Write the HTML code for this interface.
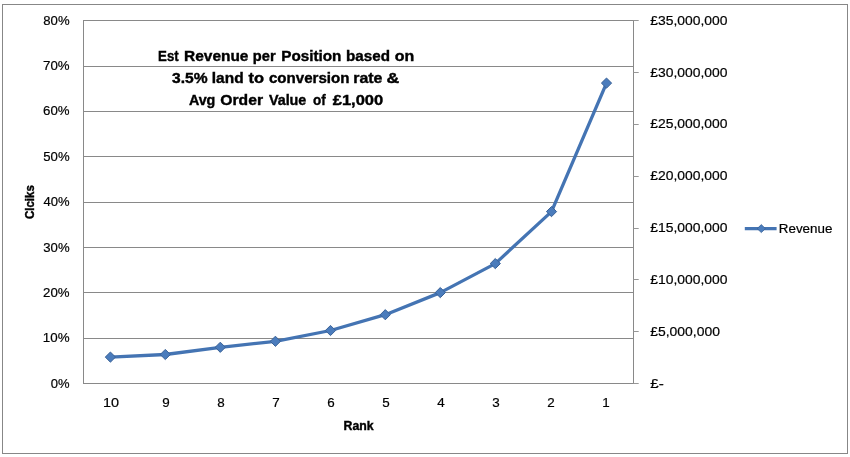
<!DOCTYPE html>
<html lang="en">
<head>
<meta charset="utf-8">
<title>Est Revenue per Position</title>
<style>
html,body{margin:0;padding:0;background:#fff;}
body{width:850px;height:457px;overflow:hidden;}
svg{display:block;}
text{font-family:"Liberation Sans",sans-serif;fill:#000;stroke:#000;stroke-width:0.2px;}
.b{font-weight:bold;stroke-width:0.4px;}
</style>
</head>
<body>
<svg width="850" height="457" viewBox="0 0 850 457">
<rect x="0" y="0" width="850" height="457" fill="#fff"/>

<rect x="2.5" y="4.5" width="845" height="449" fill="none" stroke="#878787" stroke-width="1"/>
<line x1="83.5" y1="20.50" x2="633.5" y2="20.50" stroke="#898989" stroke-width="1"/>
<line x1="83.5" y1="66.50" x2="633.5" y2="66.50" stroke="#898989" stroke-width="1"/>
<line x1="83.5" y1="111.50" x2="633.5" y2="111.50" stroke="#898989" stroke-width="1"/>
<line x1="83.5" y1="156.50" x2="633.5" y2="156.50" stroke="#898989" stroke-width="1"/>
<line x1="83.5" y1="202.50" x2="633.5" y2="202.50" stroke="#898989" stroke-width="1"/>
<line x1="83.5" y1="247.50" x2="633.5" y2="247.50" stroke="#898989" stroke-width="1"/>
<line x1="83.5" y1="292.50" x2="633.5" y2="292.50" stroke="#898989" stroke-width="1"/>
<line x1="83.5" y1="338.50" x2="633.5" y2="338.50" stroke="#898989" stroke-width="1"/>
<line x1="83.5" y1="383.50" x2="633.5" y2="383.50" stroke="#898989" stroke-width="1"/>
<line x1="83.5" y1="20.0" x2="83.5" y2="384.0" stroke="#898989" stroke-width="1"/>
<line x1="633.5" y1="20.0" x2="633.5" y2="384.0" stroke="#898989" stroke-width="1"/>
<line x1="633.5" y1="20.50" x2="638.7" y2="20.50" stroke="#979797" stroke-width="1"/>
<line x1="633.5" y1="72.50" x2="638.7" y2="72.50" stroke="#979797" stroke-width="1"/>
<line x1="633.5" y1="124.50" x2="638.7" y2="124.50" stroke="#979797" stroke-width="1"/>
<line x1="633.5" y1="176.50" x2="638.7" y2="176.50" stroke="#979797" stroke-width="1"/>
<line x1="633.5" y1="228.50" x2="638.7" y2="228.50" stroke="#979797" stroke-width="1"/>
<line x1="633.5" y1="279.50" x2="638.7" y2="279.50" stroke="#979797" stroke-width="1"/>
<line x1="633.5" y1="331.50" x2="638.7" y2="331.50" stroke="#979797" stroke-width="1"/>
<line x1="633.5" y1="383.50" x2="638.7" y2="383.50" stroke="#979797" stroke-width="1"/>
<text x="43.29" y="25.2" font-size="13.4" textLength="26.30" lengthAdjust="spacingAndGlyphs">80%</text>
<text x="43.08" y="70.2" font-size="13.4" textLength="26.52" lengthAdjust="spacingAndGlyphs">70%</text>
<text x="43.08" y="115.2" font-size="13.4" textLength="26.52" lengthAdjust="spacingAndGlyphs">60%</text>
<text x="43.29" y="161.2" font-size="13.4" textLength="26.30" lengthAdjust="spacingAndGlyphs">50%</text>
<text x="43.50" y="206.2" font-size="13.4" textLength="26.09" lengthAdjust="spacingAndGlyphs">40%</text>
<text x="43.29" y="252.2" font-size="13.4" textLength="26.30" lengthAdjust="spacingAndGlyphs">30%</text>
<text x="43.08" y="297.2" font-size="13.4" textLength="26.52" lengthAdjust="spacingAndGlyphs">20%</text>
<text x="42.87" y="342.2" font-size="13.4" textLength="26.73" lengthAdjust="spacingAndGlyphs">10%</text>
<text x="50.79" y="388.2" font-size="13.4" textLength="18.79" lengthAdjust="spacingAndGlyphs">0%</text>
<text x="650.28" y="25.2" font-size="13.4" textLength="77.26" lengthAdjust="spacingAndGlyphs">£35,000,000</text>
<text x="650.28" y="77.2" font-size="13.4" textLength="77.26" lengthAdjust="spacingAndGlyphs">£30,000,000</text>
<text x="650.28" y="128.3" font-size="13.4" textLength="77.26" lengthAdjust="spacingAndGlyphs">£25,000,000</text>
<text x="650.28" y="180.2" font-size="13.4" textLength="77.26" lengthAdjust="spacingAndGlyphs">£20,000,000</text>
<text x="650.28" y="232.3" font-size="13.4" textLength="77.26" lengthAdjust="spacingAndGlyphs">£15,000,000</text>
<text x="650.28" y="284.2" font-size="13.4" textLength="77.26" lengthAdjust="spacingAndGlyphs">£10,000,000</text>
<text x="650.28" y="336.2" font-size="13.4" textLength="69.66" lengthAdjust="spacingAndGlyphs">£5,000,000</text>
<text x="650.26" y="388.2" font-size="13.4" textLength="13.59" lengthAdjust="spacingAndGlyphs">£-</text>
<text x="103.00" y="407.0" font-size="13.4" textLength="16.06" lengthAdjust="spacingAndGlyphs">10</text>
<text x="165.90" y="407" font-size="13.4" text-anchor="middle">9</text>
<text x="220.90" y="407" font-size="13.4" text-anchor="middle">8</text>
<text x="275.90" y="407" font-size="13.4" text-anchor="middle">7</text>
<text x="330.90" y="407" font-size="13.4" text-anchor="middle">6</text>
<text x="385.90" y="407" font-size="13.4" text-anchor="middle">5</text>
<text x="440.90" y="407" font-size="13.4" text-anchor="middle">4</text>
<text x="495.90" y="407" font-size="13.4" text-anchor="middle">3</text>
<text x="550.90" y="407" font-size="13.4" text-anchor="middle">2</text>
<text x="605.90" y="407" font-size="13.4" text-anchor="middle">1</text>
<text class="b" y="60.7" font-size="15"><tspan x="158.07" textLength="20.59" lengthAdjust="spacingAndGlyphs">Est</tspan> <tspan x="184.03" textLength="64.45" lengthAdjust="spacingAndGlyphs">Revenue</tspan> <tspan x="252.78" textLength="22.82" lengthAdjust="spacingAndGlyphs">per</tspan> <tspan x="281.25" textLength="60.19" lengthAdjust="spacingAndGlyphs">Position</tspan> <tspan x="346.05" textLength="43.92" lengthAdjust="spacingAndGlyphs">based</tspan> <tspan x="394.80" textLength="19.47" lengthAdjust="spacingAndGlyphs">on</tspan></text>
<text class="b" y="82.7" font-size="15"><tspan x="171.96" textLength="35.56" lengthAdjust="spacingAndGlyphs">3.5%</tspan> <tspan x="211.83" textLength="31.75" lengthAdjust="spacingAndGlyphs">land</tspan> <tspan x="248.60" textLength="15.54" lengthAdjust="spacingAndGlyphs">to</tspan> <tspan x="268.93" textLength="80.50" lengthAdjust="spacingAndGlyphs">conversion</tspan> <tspan x="353.21" textLength="29.19" lengthAdjust="spacingAndGlyphs">rate</tspan> <tspan x="386.55" textLength="12.79" lengthAdjust="spacingAndGlyphs">&amp;</tspan></text>
<text class="b" y="104.7" font-size="15"><tspan x="188.88" textLength="26.44" lengthAdjust="spacingAndGlyphs">Avg</tspan> <tspan x="220.31" textLength="42.71" lengthAdjust="spacingAndGlyphs">Order</tspan> <tspan x="268.90" textLength="37.46" lengthAdjust="spacingAndGlyphs">Value</tspan> <tspan x="312.98" textLength="12.68" lengthAdjust="spacingAndGlyphs">of</tspan> <tspan x="332.70" textLength="50.57" lengthAdjust="spacingAndGlyphs">£1,000</tspan></text>
<text class="b" x="343.53" y="429.9" font-size="12.4" textLength="30.09" lengthAdjust="spacingAndGlyphs">Rank</text>
<text class="b" transform="translate(34.3,218.7) rotate(-90)" x="-0.36" y="0" font-size="12.4" textLength="33.93" lengthAdjust="spacingAndGlyphs">Clciks</text>
<path d="M110.4 357.1 L165.3 354.5 L220.3 347.3 L275.4 341.3 L330.5 330.5 L385.3 314.7 L440.3 292.6 L495.3 263.6 L551.5 211.6 L606.5 83.1" fill="none" stroke="#4474b3" stroke-width="3.3" stroke-linejoin="round" stroke-linecap="round"/>
<path d="M110.4 352.0 l5.1 5.1 l-5.1 5.1 l-5.1 -5.1 z" fill="#4b7cbc" stroke="#3a6297" stroke-width="1"/>
<path d="M165.3 349.4 l5.1 5.1 l-5.1 5.1 l-5.1 -5.1 z" fill="#4b7cbc" stroke="#3a6297" stroke-width="1"/>
<path d="M220.3 342.2 l5.1 5.1 l-5.1 5.1 l-5.1 -5.1 z" fill="#4b7cbc" stroke="#3a6297" stroke-width="1"/>
<path d="M275.4 336.2 l5.1 5.1 l-5.1 5.1 l-5.1 -5.1 z" fill="#4b7cbc" stroke="#3a6297" stroke-width="1"/>
<path d="M330.5 325.4 l5.1 5.1 l-5.1 5.1 l-5.1 -5.1 z" fill="#4b7cbc" stroke="#3a6297" stroke-width="1"/>
<path d="M385.3 309.6 l5.1 5.1 l-5.1 5.1 l-5.1 -5.1 z" fill="#4b7cbc" stroke="#3a6297" stroke-width="1"/>
<path d="M440.3 287.5 l5.1 5.1 l-5.1 5.1 l-5.1 -5.1 z" fill="#4b7cbc" stroke="#3a6297" stroke-width="1"/>
<path d="M495.3 258.5 l5.1 5.1 l-5.1 5.1 l-5.1 -5.1 z" fill="#4b7cbc" stroke="#3a6297" stroke-width="1"/>
<path d="M551.5 206.5 l5.1 5.1 l-5.1 5.1 l-5.1 -5.1 z" fill="#4b7cbc" stroke="#3a6297" stroke-width="1"/>
<path d="M606.5 78.0 l5.1 5.1 l-5.1 5.1 l-5.1 -5.1 z" fill="#4b7cbc" stroke="#3a6297" stroke-width="1"/>
<line x1="744.8" y1="228.6" x2="776.6" y2="228.6" stroke="#4474b3" stroke-width="3.3"/>
<path d="M761.3 224.6 l4.1 4 l-4.1 4 l-4.1 -4 z" fill="#4b7cbc" stroke="#3a6297" stroke-width="0.8"/>
<text x="778.86" y="232.8" font-size="13.4" textLength="53.49" lengthAdjust="spacingAndGlyphs">Revenue</text>
</svg>
</body>
</html>
